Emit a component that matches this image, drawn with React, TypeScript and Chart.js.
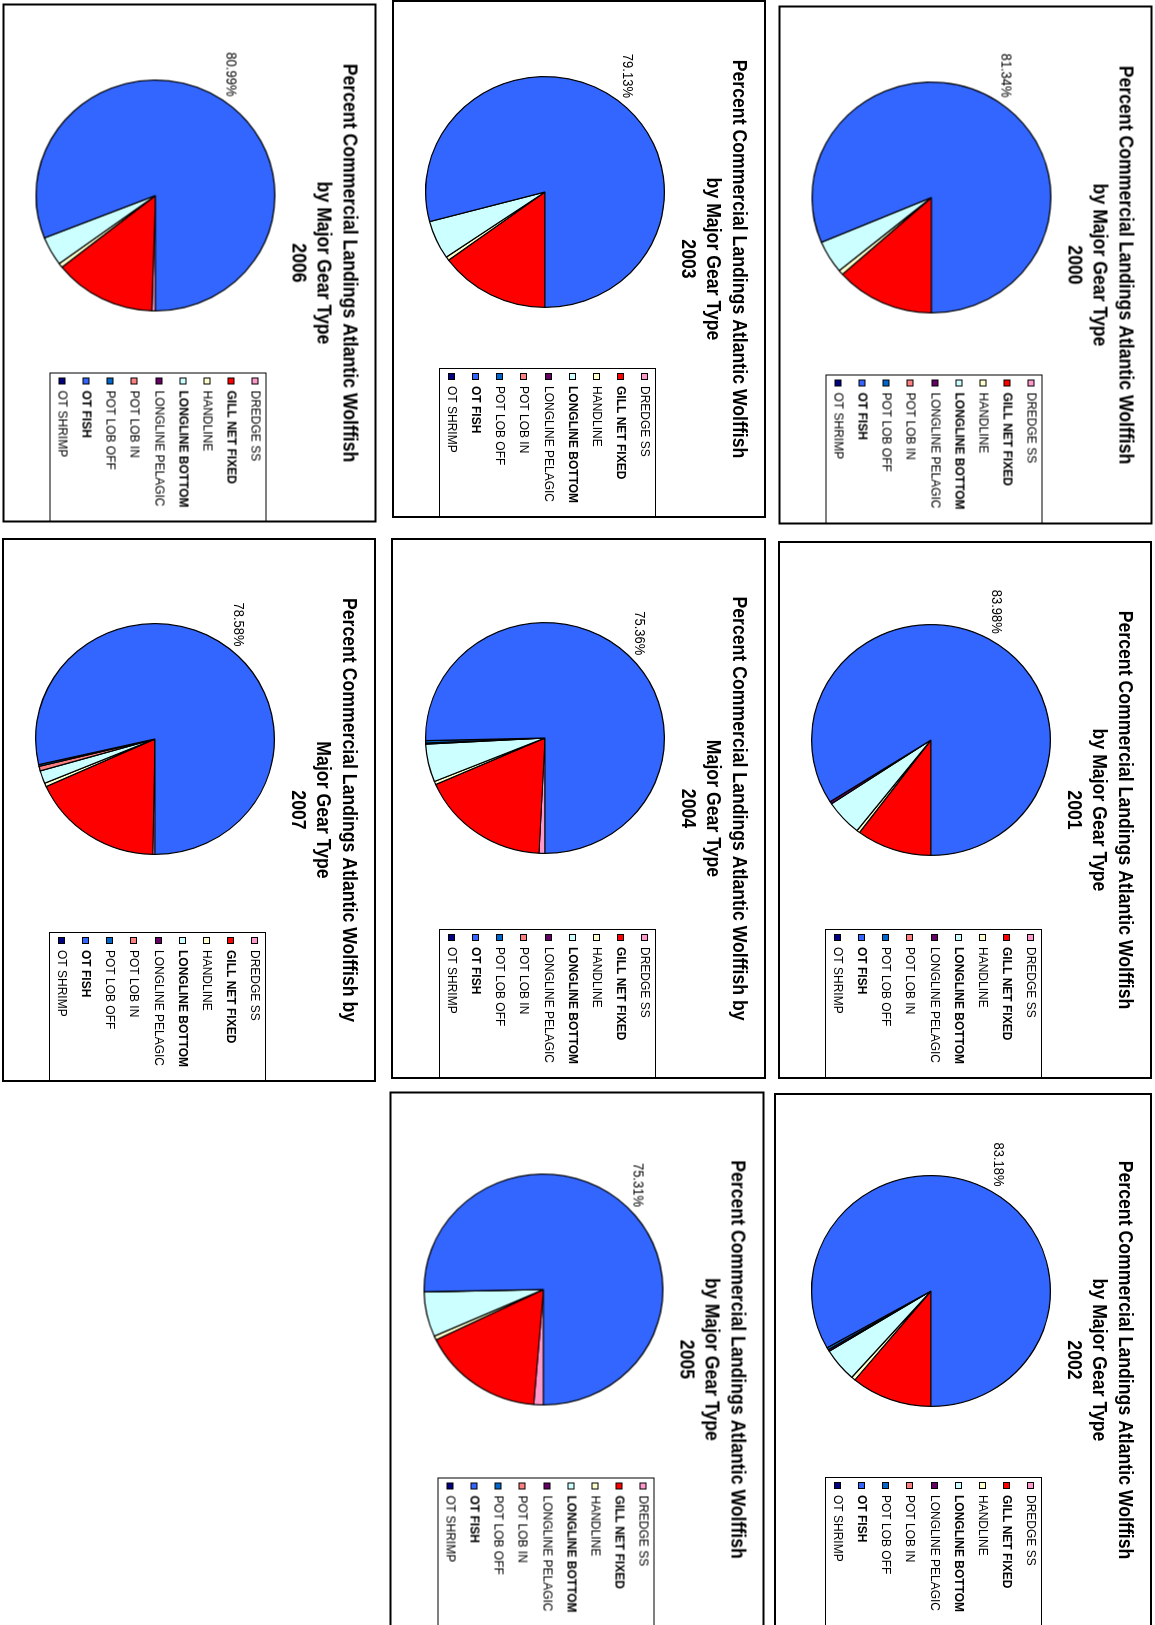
import React, { useEffect, useRef } from 'react';
import { Chart, registerables } from 'chart.js';

Chart.register(...registerables);

// ---------- data ----------
const gearTypes = ['DREDGE SS', 'GILL NET FIXED', 'HANDLINE', 'LONGLINE BOTTOM', 'LONGLINE PELAGIC', 'POT LOB IN', 'POT LOB OFF', 'OT FISH', 'OT SHRIMP'];
const gearColors = ['#FF99CC', '#FF0000', '#FFFFCC', '#CCFFFF', '#660066', '#FF8080', '#0066CC', '#3366FF', '#000080'];
const gearBold = [false, true, false, true, false, false, false, true, false];
const labelledGear = 'OT FISH';

const years = ['2000', '2001', '2002', '2003', '2004', '2005', '2006', '2007'];

// percent of landings by gear (order = gearTypes)
const share2000 = [0, 13.4, 0.66, 4.6, 0, 0, 0, 81.34, 0];
const share2001 = [0, 10.2, 0.45, 5.02, 0.35, 0, 0, 83.98, 0];
const share2002 = [0, 11.0, 0.55, 4.7, 0.25, 0, 0.32, 83.18, 0];
const share2003 = [0, 14.95, 0.52, 5.4, 0, 0, 0, 79.13, 0];
const share2004 = [0.8, 17.6, 0.45, 5.3, 0.15, 0, 0.34, 75.36, 0];
const share2005 = [1.3, 16.5, 0.58, 6.28, 0.03, 0, 0, 75.31, 0];
const share2006 = [0.47, 13.85, 0.62, 4.07, 0, 0, 0, 80.99, 0];
const share2007 = [0.3, 17.95, 0.5, 1.8, 0, 0.64, 0.25, 78.58, 0];

const titleStandard = ['Percent Commercial Landings Atlantic Wolffish', 'by Major Gear Type'];
const titleAlternate = ['Percent Commercial Landings Atlantic Wolffish by', 'Major Gear Type'];

// ---------- layout ----------
const panels = [
  { year: years[0], shares: share2000, title: titleStandard, left: 778, top: 5, w: 374, h: 519 },
  { year: years[1], shares: share2001, title: titleStandard, left: 778, top: 541, w: 374, h: 538 },
  { year: years[2], shares: share2002, title: titleStandard, left: 774, top: 1093, w: 378, h: 534 },
  { year: years[3], shares: share2003, title: titleStandard, left: 392, top: 0, w: 374, h: 518 },
  { year: years[4], shares: share2004, title: titleAlternate, left: 391, top: 538, w: 375, h: 541 },
  { year: years[5], shares: share2005, title: titleStandard, left: 389, top: 1091, w: 375, h: 536 },
  { year: years[6], shares: share2006, title: titleStandard, left: 2, top: 3, w: 374, h: 519 },
  { year: years[7], shares: share2007, title: titleAlternate, left: 2, top: 538, w: 374, h: 544 },
];

const FONT = '"Liberation Sans", Arial, sans-serif';
const TITLE_SY = 1.15;
const LEGEND_SY = 1.07;
const LABEL_SY = 1.1;
const PIE_SY = 1.035;
const TITLE_BASE = [33, 59, 84];

function drawText(ctx: any, text: string, x: number, y: number, font: string, align: string, baseline: string, sy: number) {
  ctx.save();
  ctx.font = font;
  ctx.textAlign = align;
  ctx.textBaseline = baseline;
  ctx.translate(x, y);
  ctx.scale(1, sy);
  ctx.fillText(text, 0, 0);
  ctx.restore();
}

const panelDecor = {
  id: 'panelDecor',
  beforeDatasetsDraw(chart: any) {
    const ctx = chart.ctx;
    const a = chart.getDatasetMeta(0).data[0];
    ctx.save();
    ctx.translate(a.x, a.y);
    ctx.scale(1, PIE_SY);
    ctx.translate(-a.x, -a.y);
  },
  afterDatasetsDraw(chart: any) {
    chart.ctx.restore();
  },
  afterDraw(chart: any, _args: any, opts: any) {
    const ctx = chart.ctx;
    const W = chart.width;
    const H = chart.height;
    ctx.save();
    // frame
    ctx.strokeStyle = '#000';
    ctx.lineWidth = 2;
    ctx.strokeRect(1, 1, W - 2, H - 2);
    // title
    ctx.fillStyle = '#000';
    const lines = opts.titleLines || [];
    for (let i = 0; i < lines.length; i++) {
      drawText(ctx, lines[i], W / 2, TITLE_BASE[i], `bold 17.7px ${FONT}`, 'center', 'alphabetic', TITLE_SY);
    }
    // percentage label for main slice
    const idx = opts.labelIndex;
    const arc = chart.getDatasetMeta(0).data[idx];
    const value = chart.data.datasets[0].data[idx];
    if (arc && value > 0) {
      const mid = (arc.startAngle + arc.endAngle) / 2;
      const dx = Math.cos(mid);
      const dy = Math.sin(mid);
      const R = arc.outerRadius;
      const text = value.toFixed(2) + '%';
      ctx.font = `13px ${FONT}`;
      const tw = ctx.measureText(text).width;
      const th = 10;
      const pad = 9;
      const lx = arc.x + dx * (R + pad) + (dx * tw) / 2;
      const ly = arc.y + dy * (R + pad) * PIE_SY + (dy * th) / 2;
      drawText(ctx, text, lx, ly, `13px ${FONT}`, 'center', 'middle', LABEL_SY);
    }
    // legend
    const lw = 148;
    const lh = 216;
    const lx0 = W - 150;
    const ly0 = 110;
    ctx.lineWidth = 1;
    ctx.strokeStyle = '#000';
    ctx.strokeRect(lx0 + 0.5, ly0 + 0.5, lw, lh);
    const colors = chart.data.datasets[0].backgroundColor;
    chart.data.labels.forEach((lab: string, i: number) => {
      const rowY = ly0 + 11 + 24.2 * i;
      const sy0 = Math.round(rowY - 3.5);
      ctx.fillStyle = colors[i];
      ctx.fillRect(lx0 + 5, sy0, 7, 7);
      ctx.strokeRect(lx0 + 5.5, sy0 + 0.5, 6, 6);
      ctx.fillStyle = '#000';
      drawText(ctx, lab, lx0 + 18, rowY, `${gearBold[i] ? 'bold ' : ''}12px ${FONT}`, 'left', 'middle', LEGEND_SY);
    });
    ctx.restore();
  },
};

function PiePanel({ p }: { p: any }) {
  const ref = useRef<HTMLCanvasElement | null>(null);
  const W = p.h; // width before rotation
  const H = p.w; // height before rotation
  useEffect(() => {
    if (!ref.current) return;
    const r = 116;
    const ry = r * PIE_SY;
    const cx = Math.round(W * 0.37);
    const cy = 221;
    const chart = new Chart(ref.current, {
      type: 'pie',
      data: {
        labels: gearTypes,
        datasets: [
          {
            data: p.shares,
            backgroundColor: gearColors,
            borderColor: '#000000',
            borderWidth: 1.2,
            clip: false,
          } as any,
        ],
      },
      options: {
        responsive: false,
        maintainAspectRatio: false,
        animation: false,
        devicePixelRatio: 1,
        events: [],
        rotation: 90,
        layout: { padding: { left: cx - r, right: W - cx - r, top: cy - ry, bottom: H - cy - ry } },
        plugins: {
          legend: { display: false },
          title: { display: false },
          tooltip: { enabled: false },
          panelDecor: { titleLines: [...p.title, p.year], labelIndex: gearTypes.indexOf(labelledGear) },
        } as any,
      },
      plugins: [panelDecor as any],
    });
    return () => chart.destroy();
  }, []);
  return (
    <div style={{ position: 'absolute', left: p.left, top: p.top, width: p.w, height: p.h }}>
      <div
        style={{
          position: 'absolute',
          left: (p.w - W) / 2,
          top: (p.h - H) / 2,
          width: W,
          height: H,
          transform: 'rotate(90deg)',
          transformOrigin: '50% 50%',
        }}
      >
        <canvas ref={ref} width={W} height={H} style={{ display: 'block', width: W, height: H }} />
      </div>
    </div>
  );
}

export default function App() {
  return (
    <div style={{ position: 'fixed', left: 0, top: 0, width: 1155, height: 1625, overflow: 'hidden', background: '#ffffff' }}>
      {panels.map((p) => (
        <PiePanel key={p.year} p={p} />
      ))}
    </div>
  );
}
